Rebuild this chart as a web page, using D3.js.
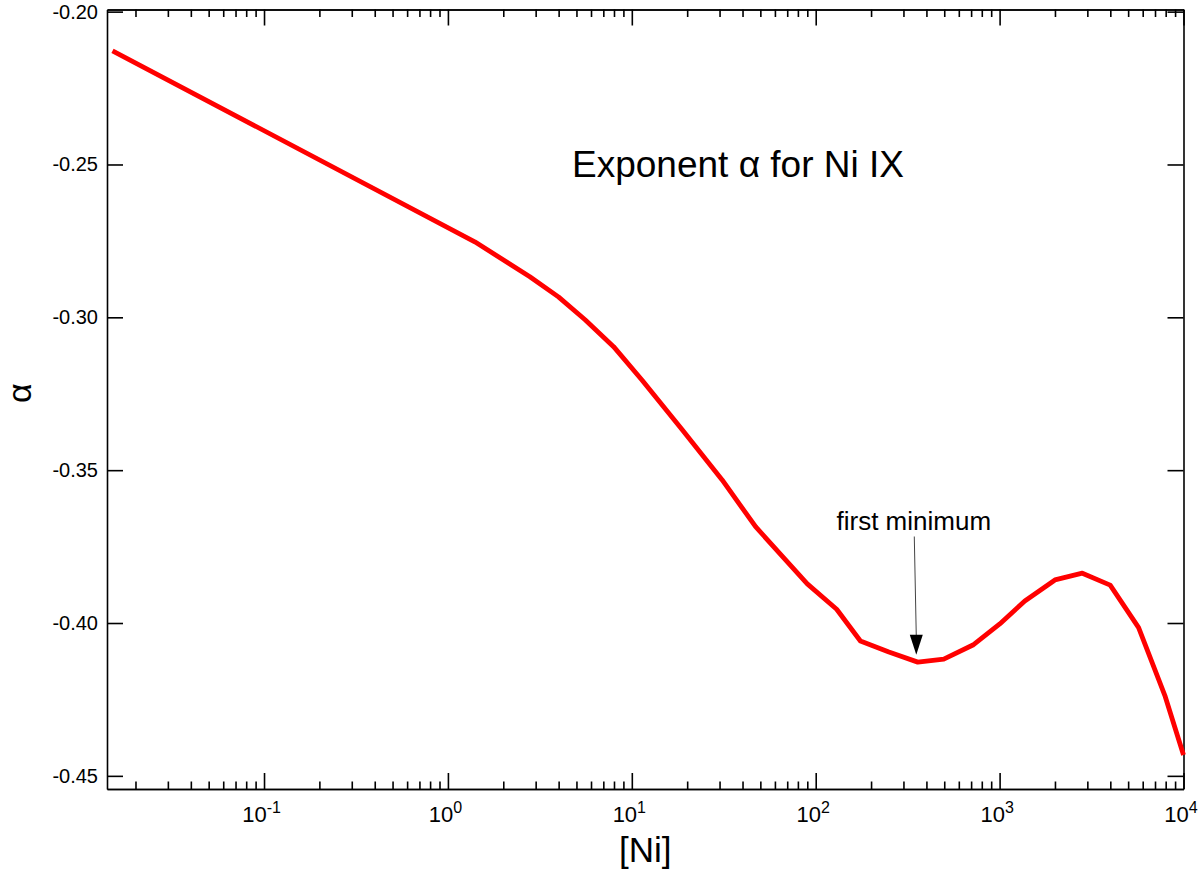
<!DOCTYPE html>
<html>
<head>
<meta charset="utf-8">
<script src="https://cdn.jsdelivr.net/npm/d3@7"></script>
<style>
  body { margin: 0; background: #fff; }
  svg { display: block; font-family: "Liberation Sans", Arial, Helvetica, sans-serif; }
</style>
</head>
<body>
<svg id="chart"></svg>
<script>
// [Ni] values and the exponent alpha
const niValues = [0.015, 1.40, 2.79, 3.99, 5.57, 7.96, 11.35, 18.8, 31.0, 47.1, 90, 130, 175, 250, 359, 497, 716, 1002, 1371, 2000, 2818, 3993, 5700, 7960, 10000];
const alphaValues = [-0.2128, -0.2753, -0.2867, -0.2933, -0.3008, -0.3096, -0.3205, -0.3368, -0.3532, -0.3685, -0.3872, -0.3955, -0.4059, -0.4095, -0.4128, -0.4118, -0.4072, -0.4003, -0.3928, -0.3859, -0.3837, -0.3876, -0.4015, -0.4241, -0.4432];

const xMajorTicks = [0.1, 1, 10, 100, 1000, 10000];
const xExponents = ["-1", "0", "1", "2", "3", "4"];
const yTicks = [-0.20, -0.25, -0.30, -0.35, -0.40, -0.45];

const annotation = { label: "first minimum", x: 359, yTip: -0.4104, yStart: -0.3717, yText: -0.3696 };

const width = 1200;
const height = 879;
const marginLeft = 107;
const marginRight = 16.5;
const marginTop = 9.5;
const marginBottom = 90;

const data = niValues.map((v, i) => ({ ni: v, alpha: alphaValues[i] }));

const svg = d3.select("#chart")
    .attr("width", width)
    .attr("height", height);

const xScale = d3.scaleLog()
    .domain([0.0140, 10000])
    .range([marginLeft, width - marginRight]);

const yScale = d3.scaleLinear()
    .domain([-0.4543, -0.1993])
    .range([height - marginBottom, marginTop]);

// minor ticks 2..9 of every decade inside the domain
const xMinorTicks = [];
for (let e = -2; e < 4; e++) {
    for (let m = 2; m <= 9; m++) {
        const v = m * Math.pow(10, e);
        if (v >= xScale.domain()[0] && v <= xScale.domain()[1]) xMinorTicks.push(v);
    }
}

const plotBottom = height - marginBottom;
const plotRight = width - marginRight;

function styleAxis(g) {
    g.selectAll("path, line").attr("stroke", "#000").attr("stroke-width", 1.6);
}

// bottom axis: minor + major ticks pointing inward
svg.append("g")
    .attr("transform", `translate(0,${plotBottom})`)
    .call(d3.axisBottom(xScale).tickValues(xMinorTicks).tickSizeInner(-7.5).tickSizeOuter(0).tickFormat(""))
    .call(styleAxis);

const xAxis = svg.append("g")
    .attr("transform", `translate(0,${plotBottom})`)
    .call(d3.axisBottom(xScale).tickValues(xMajorTicks).tickSizeInner(-16).tickSizeOuter(0))
    .call(styleAxis);

xAxis.selectAll(".tick text")
    .attr("font-size", 22)
    .attr("fill", "#000")
    .attr("dy", 0)
    .attr("dx", -3)
    .attr("y", 33)
    .text("10")
    .append("tspan")
    .attr("font-size", 16)
    .attr("dy", -9)
    .text((d, i) => xExponents[i]);

// top axis mirrors the ticks
svg.append("g")
    .attr("transform", `translate(0,${marginTop})`)
    .call(d3.axisTop(xScale).tickValues(xMinorTicks).tickSizeInner(-7.5).tickSizeOuter(0).tickFormat(""))
    .call(styleAxis);
svg.append("g")
    .attr("transform", `translate(0,${marginTop})`)
    .call(d3.axisTop(xScale).tickValues(xMajorTicks).tickSizeInner(-16).tickSizeOuter(0).tickFormat(""))
    .call(styleAxis);

// left axis with labels (plain hyphen as minus, like the original)
const yAxis = svg.append("g")
    .attr("transform", `translate(${marginLeft},0)`)
    .call(d3.axisLeft(yScale).tickValues(yTicks).tickSizeInner(-16).tickSizeOuter(0).tickPadding(9)
        .tickFormat(d => d3.format(".2f")(d).replace("\u2212", "-")))
    .call(styleAxis);
yAxis.selectAll(".tick text").attr("font-size", 20).attr("fill", "#000");

// right axis mirrors
svg.append("g")
    .attr("transform", `translate(${plotRight},0)`)
    .call(d3.axisRight(yScale).tickValues(yTicks).tickSizeInner(-16).tickSizeOuter(0).tickFormat(""))
    .call(styleAxis);

// curve
const line = d3.line()
    .x(d => xScale(d.ni))
    .y(d => yScale(d.alpha));

svg.append("path")
    .datum(data)
    .attr("fill", "none")
    .attr("stroke", "#ff0000")
    .attr("stroke-width", 4.8)
    .attr("stroke-linejoin", "round")
    .attr("d", line);

// annotation with arrow
const tipX = xScale(annotation.x) - 1.5;
const tipY = yScale(annotation.yTip);

svg.append("line")
    .attr("x1", tipX - 2)
    .attr("y1", yScale(annotation.yStart))
    .attr("x2", tipX)
    .attr("y2", tipY - 18)
    .attr("stroke", "#444")
    .attr("stroke-width", 1);

svg.append("path")
    .attr("d", `M${tipX},${tipY} L${tipX - 6.5},${tipY - 20} L${tipX + 6.5},${tipY - 20} Z`)
    .attr("fill", "#000");

svg.append("text")
    .attr("x", xScale(annotation.x) - 4)
    .attr("y", yScale(annotation.yText))
    .attr("text-anchor", "middle")
    .attr("font-size", 26)
    .attr("fill", "#000")
    .text(annotation.label);

// title inside plot
svg.append("text")
    .attr("x", 572)
    .attr("y", 177)
    .attr("font-size", 37)
    .attr("fill", "#000")
    .text("Exponent \u03b1 for Ni IX");

// axis titles
svg.append("text")
    .attr("x", (marginLeft + plotRight) / 2)
    .attr("y", 862)
    .attr("text-anchor", "middle")
    .attr("font-size", 35)
    .attr("fill", "#000")
    .text("[Ni]");

svg.append("text")
    .attr("transform", `translate(31,${(marginTop + plotBottom) / 2 - 6}) rotate(-90)`)
    .attr("text-anchor", "middle")
    .attr("font-size", 34)
    .attr("fill", "#000")
    .text("\u03b1");
</script>
</body>
</html>
